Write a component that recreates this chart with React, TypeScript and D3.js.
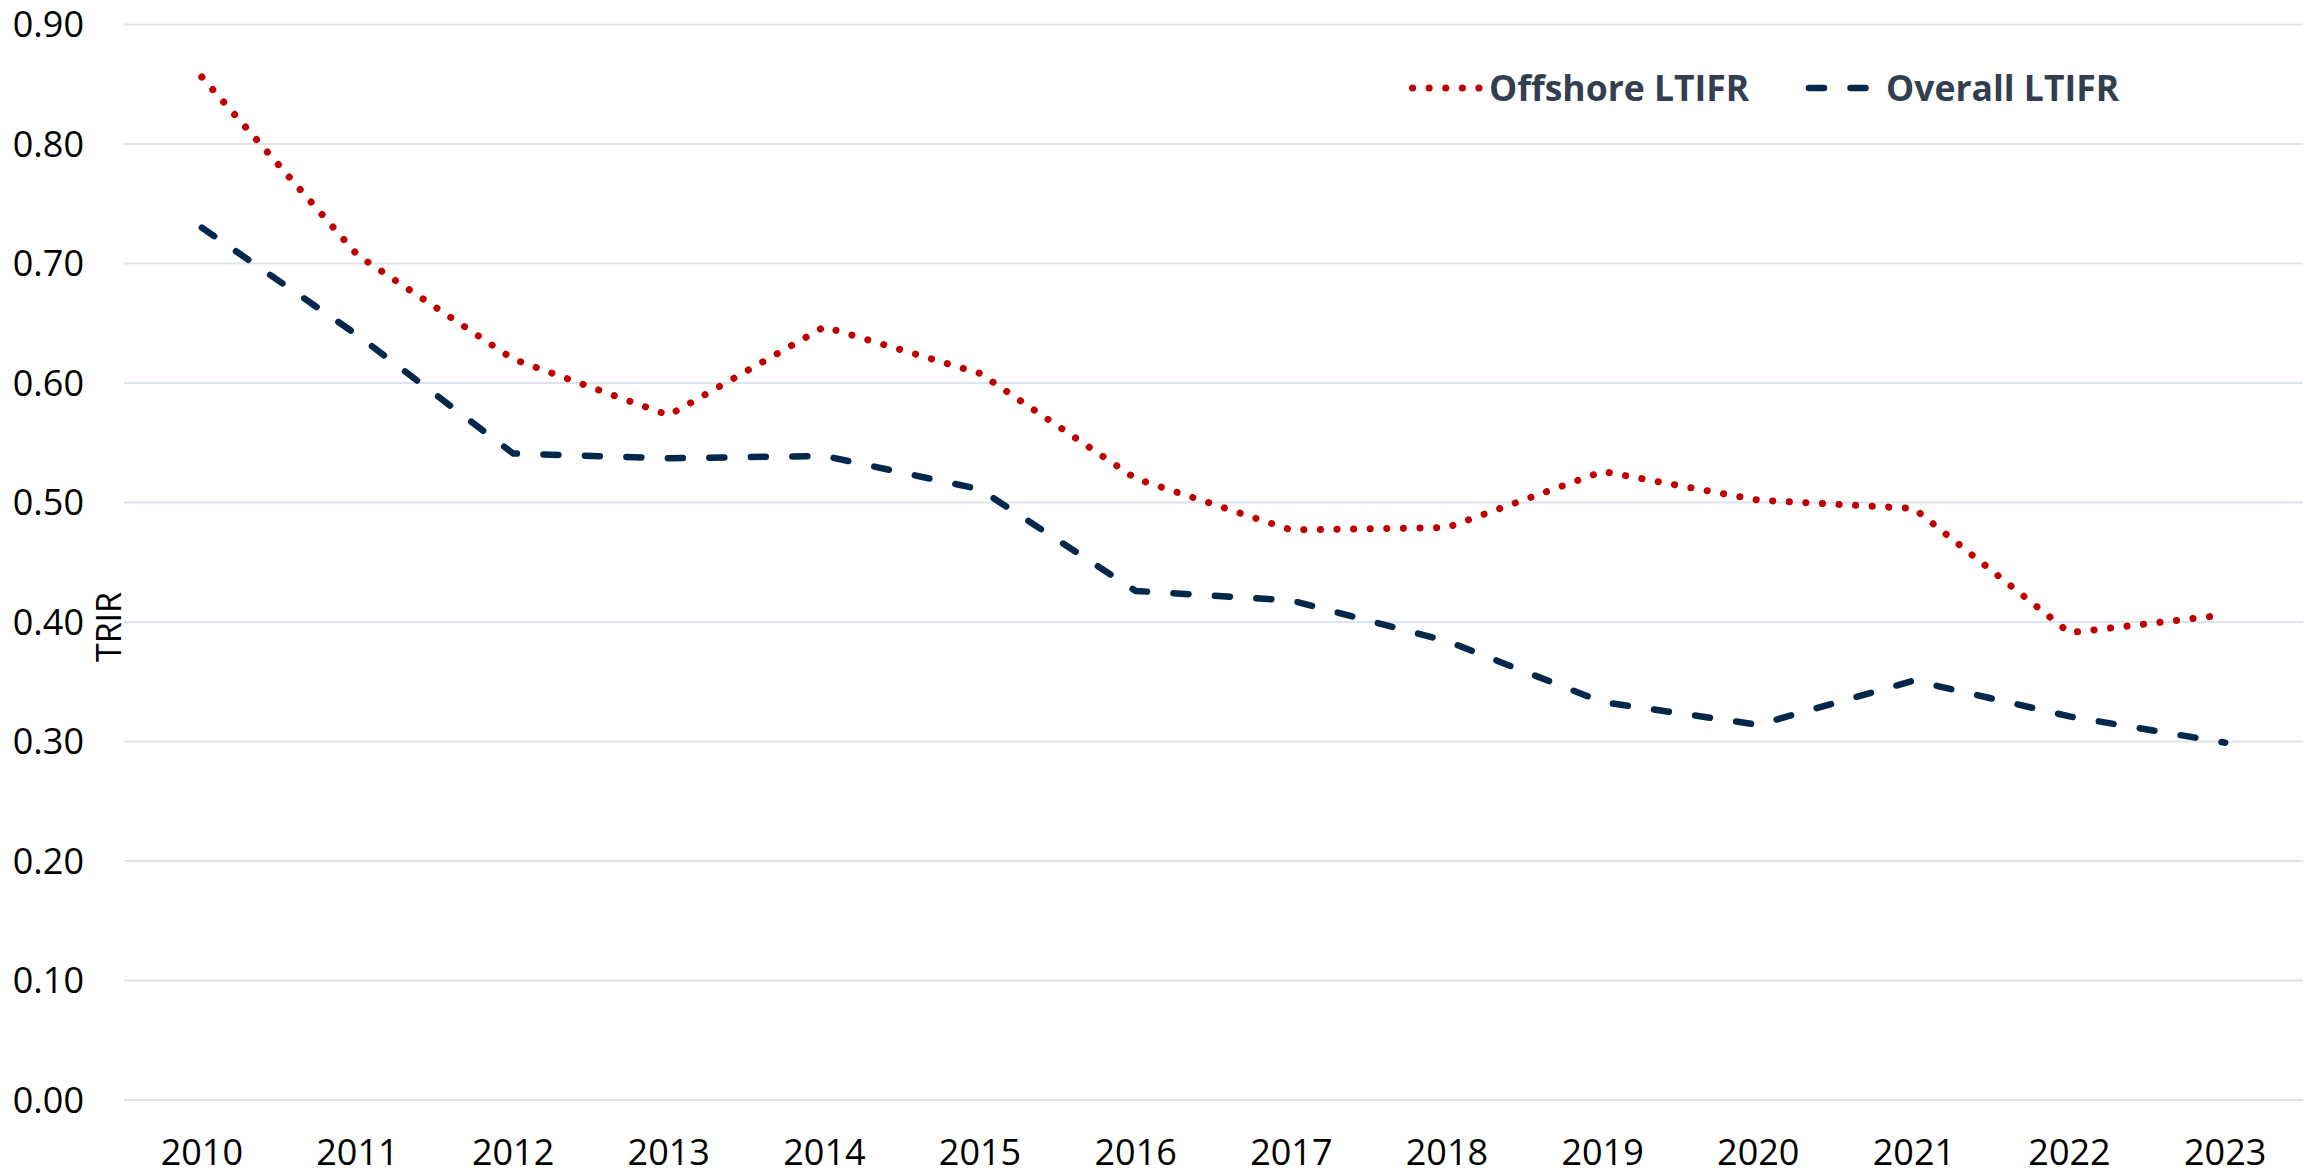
import React from "react";
import * as d3 from "d3";

const years = ["2010","2011","2012","2013","2014","2015","2016","2017","2018","2019","2020","2021","2022","2023"];
const offshoreLTIFR = [0.856, 0.707, 0.62, 0.573, 0.647, 0.608, 0.52, 0.477, 0.479, 0.526, 0.502, 0.495, 0.391, 0.406];
const overallLTIFR = [0.73, 0.64, 0.541, 0.537, 0.539, 0.511, 0.426, 0.418, 0.384, 0.333, 0.314, 0.351, 0.321, 0.299];
const yTicks = [0, 0.1, 0.2, 0.3, 0.4, 0.5, 0.6, 0.7, 0.8, 0.9];
const seriesNames = ["Offshore LTIFR", "Overall LTIFR"];
const yTitle = "TRIR";

const W = 2318;
const H = 1173;
const FONT = "'Open Sans', 'Noto Sans', sans-serif";
const RED = "#c00000";
const NAVY = "#03284c";

export default function App() {
  const x = d3.scalePoint<string>().domain(years).range([124, 2303]).padding(0.5);
  const y = d3.scaleLinear().domain([0, 0.9]).range([1100, 24.5]);

  const line = d3
    .line<number>()
    .x((_, i) => x(years[i]) as number)
    .y((d) => y(d))
    .curve(d3.curveLinear);

  return (
    <svg
      width={W}
      height={H}
      style={{ position: "absolute", left: 0, top: 0, background: "#fff" }}
      fontFamily={FONT}
    >
      <rect x={0} y={0} width={W} height={H} fill="#fff" />
      {/* gridlines */}
      {yTicks.map((t) => (
        <line key={t} x1={124} x2={2303} y1={y(t)} y2={y(t)} stroke="#dce3ec" strokeWidth={2} />
      ))}
      {/* y tick labels */}
      {yTicks.map((t) => (
        <text key={"l" + t} x={84} y={y(t)} dy="0.35em" textAnchor="end" fontSize={36} fill="#000">
          {d3.format(".2f")(t)}
        </text>
      ))}
      {/* x tick labels */}
      {years.map((yr) => (
        <text key={yr} x={x(yr)} y={1165} textAnchor="middle" fontSize={36} fill="#000">
          {yr}
        </text>
      ))}
      {/* y title */}
      <text
        transform={`translate(121,627) rotate(-90)`}
        textAnchor="middle"
        fontSize={34}
        fill="#000"
      >
        {yTitle}
      </text>
      {/* series */}
      <path
        d={line(overallLTIFR) || ""}
        fill="none"
        stroke={NAVY}
        strokeWidth={6.5}
        strokeDasharray="15 26.5"
        strokeLinecap="round"
        strokeLinejoin="round"
      />
      <path
        d={line(offshoreLTIFR) || ""}
        fill="none"
        stroke={RED}
        strokeWidth={7}
        strokeDasharray="0.1 16.5"
        strokeLinecap="round"
        strokeLinejoin="round"
      />
      {/* legend */}
      <path d="M1412.5,88 H1479" stroke={RED} strokeWidth={7} strokeDasharray="0.1 16.5" strokeLinecap="round" />
      <text x={1489} y={101} fontSize={35.5} fontWeight="bold" fill="#333f4f">
        {seriesNames[0]}
      </text>
      <path d="M1809,88 H1869" stroke={NAVY} strokeWidth={6.5} strokeDasharray="15 26.5" strokeLinecap="round" />
      <text x={1886} y={101} fontSize={35.5} fontWeight="bold" fill="#333f4f">
        {seriesNames[1]}
      </text>
    </svg>
  );
}
